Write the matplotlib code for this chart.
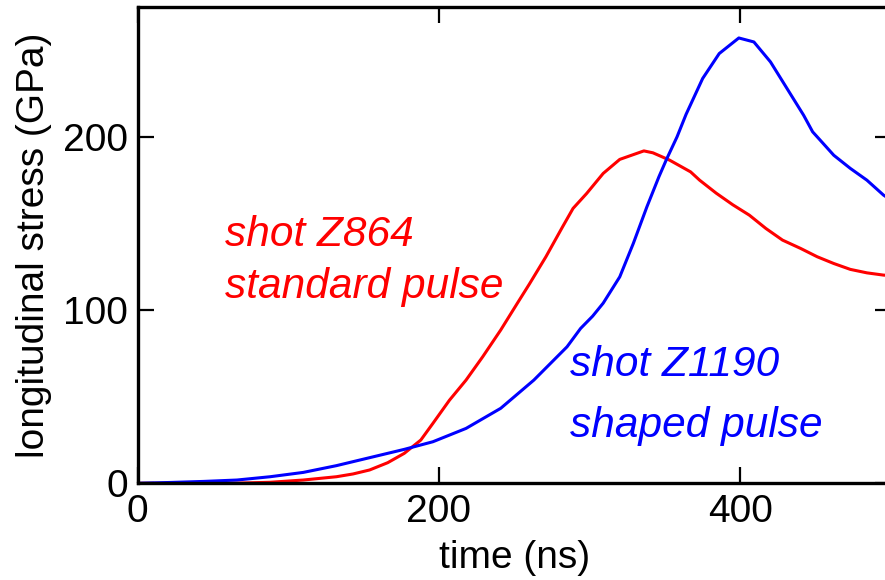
import numpy as np
import matplotlib
matplotlib.use('Agg')
import matplotlib.pyplot as plt

plt.rc('font', family='Liberation Sans')

# shot Z864, standard pulse (time in ns, stress in GPa)
red_time = [0, 40, 66, 88, 110, 132, 143, 154, 166, 177, 188, 196, 207,
            218, 229, 241, 252, 260, 271, 282, 289, 298, 309, 320, 336,
            342, 353, 367, 373, 384, 395, 406, 417, 428, 440, 451, 462,
            473, 484, 495, 500]
red_stress = [0, 0, 0.1, 0.6, 1.9, 3.8, 5.4, 7.7, 11.9, 17.3, 25, 34.6,
              48, 59.6, 73, 88.5, 103.9, 115, 130.8, 148, 158.7, 167.3,
              178.9, 187, 191.9, 190.8, 186.6, 179.8, 175, 167.5, 160.8,
              154.8, 147.1, 140.4, 135.6, 130.8, 126.9, 123.5, 121.5,
              120.2, 119.9]

# shot Z1190, shaped pulse
blue_time = [0, 22, 44, 66, 88, 110, 132, 154, 177, 196, 218, 241, 263,
             285, 294, 302, 309, 320, 329, 338, 346, 351, 358, 364, 375,
             386, 399, 409, 420, 431, 442, 448, 453, 462, 473, 484, 495,
             500]
blue_stress = [0, 0.5, 1.1, 1.9, 3.8, 6.3, 10.2, 14.8, 19.6, 24, 31.7,
               43.3, 59.6, 78.8, 89.4, 96.5, 104, 119.2, 138.5, 159.6,
               177, 187, 200, 213, 233.7, 248.1, 257.1, 254.8, 243.3,
               227.9, 212.5, 202.9, 198.1, 189.4, 181.8, 175, 166.4,
               163.5]

x_ticks = [0, 200, 400]
y_ticks = [0, 100, 200]

fig = plt.figure(figsize=(8.85, 5.8), dpi=100)
ax = fig.add_axes([0.1554, 0.1667, 0.8514, 0.8213])

ax.plot(red_time, red_stress, color='#ff0000', lw=2.2,
        solid_joinstyle='round')
ax.plot(blue_time, blue_stress, color='#0000ff', lw=2.2,
        solid_joinstyle='round')

ax.set_xlim(0, 500)
ax.set_ylim(0, 275)
ax.set_xticks(x_ticks)
ax.set_yticks(y_ticks)
ax.tick_params(direction='in', length=11.5, width=1.6, labelsize=28,
               top=True, right=True, color='k')
ax.tick_params(axis='x', pad=8)
ax.tick_params(axis='y', pad=7)
for s in ax.spines.values():
    s.set_linewidth(2.4)

ax.set_xlabel('time (ns)', fontsize=28, labelpad=7)
ax.set_ylabel('longitudinal stress (GPa)', fontsize=28, labelpad=8)

ax.text(58, 137, 'shot Z864', color='#ff0000', fontsize=30.5,
        style='italic')
ax.text(58, 107, 'standard pulse', color='#ff0000', fontsize=30.5,
        style='italic')
ax.text(287, 62, 'shot Z1190', color='#0000ff', fontsize=30.5,
        style='italic')
ax.text(287, 27, 'shaped pulse', color='#0000ff', fontsize=30.5,
        style='italic')

fig.savefig('out.png', dpi=100)
